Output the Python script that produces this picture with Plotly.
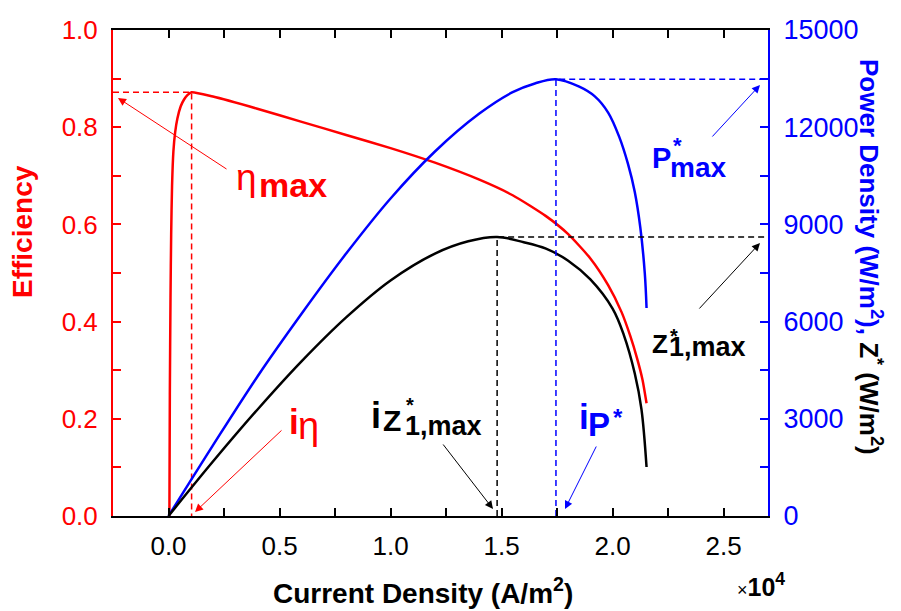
import numpy as np
import plotly.graph_objects as go

# ---------------- data (current density in units of 1e4 A/m^2) ----------------
eff_x = [0.004, 0.006, 0.009, 0.012, 0.016, 0.022, 0.030, 0.040, 0.055, 0.070, 0.085, 0.104,
         0.2, 0.4, 0.6, 0.8, 1.0, 1.2, 1.4, 1.55, 1.7, 1.8, 1.9, 1.98, 2.04, 2.08, 2.11, 2.135, 2.153]
eff_y = [0.0, 0.25, 0.45, 0.58, 0.68, 0.75, 0.79, 0.818, 0.843, 0.857, 0.866, 0.872,
         0.863, 0.838, 0.811, 0.784, 0.757, 0.727, 0.692, 0.660, 0.617, 0.580, 0.530, 0.475,
         0.420, 0.370, 0.325, 0.280, 0.232]

pd_x = [0.0, 0.2, 0.4, 0.6, 0.8, 1.0, 1.2, 1.4, 1.55, 1.65, 1.745,
        1.85, 1.92, 1.98, 2.03, 2.07, 2.10, 2.125, 2.145, 2.153]
pd_y = [0, 2180, 4300, 6250, 8100, 9800, 11250, 12420, 13080, 13350, 13480,
        13250, 12950, 12450, 11700, 10850, 10000, 8900, 7500, 6420]

z_x = [0.0, 0.2, 0.4, 0.6, 0.8, 1.0, 1.2, 1.35, 1.48, 1.6, 1.7, 1.8, 1.9, 2.0, 2.05,
       2.10, 2.13, 2.153]
z_y = [0, 1680, 3280, 4780, 6130, 7270, 8100, 8480, 8611, 8450, 8250, 7880, 7300, 6400, 5600,
       4400, 3300, 1512]

x_range = [-0.25, 2.7]
x_ticks = [0.0, 0.5, 1.0, 1.5, 2.0, 2.5]
y1_ticks = [0.0, 0.2, 0.4, 0.6, 0.8, 1.0]
y2_ticks = [0, 3000, 6000, 9000, 12000, 15000]

RED = "#ff0000"
BLUE = "#0000ff"
BLACK = "#000000"
FONT = "Liberation Sans, Arial, sans-serif"

fig = go.Figure()

# main curves
fig.add_trace(go.Scatter(x=eff_x, y=eff_y, mode="lines", line=dict(color=RED, width=2.5, shape="spline", smoothing=0.6),
                         yaxis="y", showlegend=False))
fig.add_trace(go.Scatter(x=pd_x, y=pd_y, mode="lines", line=dict(color=BLUE, width=2.5, shape="spline", smoothing=1.0),
                         yaxis="y2", showlegend=False))
fig.add_trace(go.Scatter(x=z_x, y=z_y, mode="lines", line=dict(color=BLACK, width=2.5, shape="spline", smoothing=1.0),
                         yaxis="y2", showlegend=False))

# guide lines through the maxima
i_e = int(np.argmax(eff_y)); xe, ye = eff_x[i_e], eff_y[i_e]
i_p = int(np.argmax(pd_y)); xp, yp = pd_x[i_p], pd_y[i_p]
i_z = int(np.argmax(z_y)); xz, yz = z_x[i_z], z_y[i_z]
dash = "6px,4px"
fig.add_trace(go.Scatter(x=[x_range[0], xe, xe], y=[ye, ye, 0], mode="lines",
                         line=dict(color=RED, width=1.5, dash=dash), yaxis="y", showlegend=False))
fig.add_trace(go.Scatter(x=[xp, xp, x_range[1]], y=[0, yp, yp], mode="lines",
                         line=dict(color=BLUE, width=1.5, dash=dash), yaxis="y2", showlegend=False))
fig.add_trace(go.Scatter(x=[xz, xz, x_range[1]], y=[0, yz, yz], mode="lines",
                         line=dict(color=BLACK, width=1.5, dash=dash), yaxis="y2", showlegend=False))

L, R, T, B = 113, 768, 30, 516
W, H = 901, 611


def px(v):
    return (v - L) / (R - L)


def py(v):
    return (B - v) / (B - T)


ann = []


def text(xc, yc, s, size, color, xanchor="center", angle=0):
    ann.append(dict(x=px(xc), y=py(yc), xref="paper", yref="paper", text=s, showarrow=False,
                    xanchor=xanchor, yanchor="middle", textangle=angle, borderpad=0,
                    font=dict(family=FONT, size=size, color=color)))


def arrow(hx, hy, tx, ty, color):
    ann.append(dict(x=px(hx), y=py(hy), xref="paper", yref="paper", text="", showarrow=True,
                    ax=tx - hx, ay=ty - hy, axref="pixel", ayref="pixel",
                    arrowhead=2, arrowsize=1.6, arrowwidth=1, arrowcolor=color, standoff=0))


# eta_max
text(246, 177, "η", 37, RED)
text(258, 185, "<b>max</b>", 34, RED, xanchor="left")
arrow(118, 98, 228, 170, RED)
# P*max
text(661, 158, "<b>P</b>", 29, BLUE)
text(677, 145, "<b>*</b>", 22, BLUE)
text(669, 167, "<b>max</b>", 28, BLUE, xanchor="left")
arrow(760, 85, 711, 138, BLUE)
# Z*1,max
text(660, 344, "<b>Z</b>", 26, BLACK)
text(674, 336, "<b>*</b>", 20, BLACK)
text(668, 347, "<b>1,max</b>", 27, BLACK, xanchor="left")
arrow(760, 243, 698, 310, BLACK)
# i_eta
text(293.5, 421, "<b>i</b>", 35, RED)
text(308, 426, "η", 38, RED)
arrow(195, 512, 283, 429, RED)
# i_Z*1,max
text(375.5, 415, "<b>i</b>", 36, BLACK)
text(392, 420, "<b>Z</b>", 30, BLACK)
text(410, 405, "<b>*</b>", 20, BLACK)
text(404, 426, "<b>1,max</b>", 27, BLACK, xanchor="left")
arrow(493, 509, 442, 443, BLACK)
# i_P*
text(583.5, 416, "<b>i</b>", 35, BLUE)
text(598.5, 424, "<b>P</b>", 33, BLUE)
text(618, 417, "<b>*</b>", 24, BLUE)
arrow(565, 509, 597, 445, BLUE)

# axis titles
text(22, 232, "<b>Efficiency</b>", 28, RED, angle=-90)
text(423, 591, "<b>Current Density (A/m<sup>2</sup>)</b>", 28, BLACK)
text(871, 257, "<b><span style='color:#0000ff'>Power Density (W/m<sup>2</sup>),</span> Z<sup>*</sup> (W/m<sup>2</sup>)</b>",
     26, BLACK, angle=90)
text(736, 585, "<span style='font-size:18px'>×</span><b>10<sup>4</sup></b>", 25, BLACK, xanchor="left")

fig.update_layout(
    width=W, height=H, autosize=False,
    margin=dict(l=L, r=W - R, t=T, b=H - B, pad=0),
    plot_bgcolor="white", paper_bgcolor="white",
    font=dict(family=FONT),
    annotations=ann,
    xaxis=dict(range=x_range, tickvals=x_ticks, ticktext=[f"{v:.1f}" for v in x_ticks],
               ticks="inside", ticklen=8, tickwidth=1.5, tickcolor=BLACK,
               showline=True, linecolor=BLACK, linewidth=2, mirror="ticks",
               showgrid=False, zeroline=False, ticklabelstandoff=6,
               tickfont=dict(family=FONT, size=26, color=BLACK),
               minor=dict(dtick=0.25, tick0=0, ticks="inside", ticklen=8, tickwidth=1.5, tickcolor=BLACK)),
    yaxis=dict(range=[0, 1], tickvals=y1_ticks, ticktext=[f"{v:.1f}" for v in y1_ticks],
               ticks="inside", ticklen=8, tickwidth=1.5, tickcolor=RED,
               showline=True, linecolor=RED, linewidth=2,
               showgrid=False, zeroline=False, ticklabelstandoff=8,
               tickfont=dict(family=FONT, size=26, color=RED),
               minor=dict(dtick=0.1, tick0=0, ticks="inside", ticklen=8, tickwidth=1.5, tickcolor=RED)),
    yaxis2=dict(range=[0, 15000], tickvals=y2_ticks, ticktext=[str(v) for v in y2_ticks],
                overlaying="y", side="right",
                ticks="inside", ticklen=8, tickwidth=1.5, tickcolor=BLUE,
                showline=True, linecolor=BLUE, linewidth=2,
                showgrid=False, zeroline=False, ticklabelstandoff=8,
                tickfont=dict(family=FONT, size=27, color=BLUE),
                minor=dict(dtick=1500, tick0=0, ticks="inside", ticklen=8, tickwidth=1.5, tickcolor=BLUE)),
)

fig.write_html("out.html")
